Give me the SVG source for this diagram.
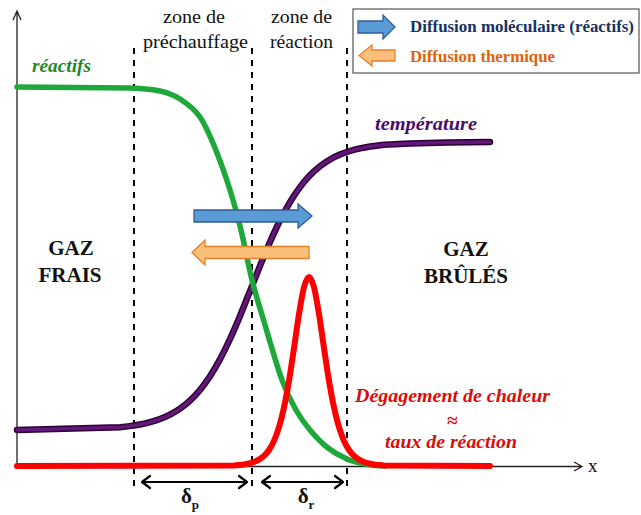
<svg xmlns="http://www.w3.org/2000/svg" width="641" height="515" viewBox="0 0 641 515">
<style>
.dash{stroke:#000;stroke-width:2;stroke-dasharray:6 6;fill:none}
.ax{stroke:#222;stroke-width:1.3;fill:none}
.dim{stroke:#000;stroke-width:2.2;fill:none;stroke-linecap:round;stroke-linejoin:round}
.lbl{font-size:19px;fill:#111}
.gaz{font-size:21px;font-weight:bold;fill:#111;text-anchor:middle}
.it{font-style:italic;font-weight:bold}
.leg{font-weight:bold;font-size:17px}
.curve{fill:none;stroke-linecap:round;stroke-linejoin:round}
.blue{fill:#5b9bd5;stroke:#2f5d95;stroke-width:1.3}
.orange{fill:#fbbf7c;stroke:#e0812a;stroke-width:1.3}
</style>
<rect width="641" height="515" fill="#fff"/>
<g font-family="Liberation Serif, Times New Roman, serif">
<g id="axes">
<path class="ax" d="M17,467 V11 M13,20 L17,11 L21,20"/>
<path class="ax" d="M17,466.5 H582 M574,462 L582,466.5 L574,471" stroke="#444"/>
<text x="588" y="472" class="lbl" font-size="18">x</text>
</g>

<g id="zone-boundaries">
<line class="dash" x1="134" y1="48" x2="134" y2="490"/>
<line class="dash" x1="252" y1="48" x2="252" y2="490"/>
<line class="dash" x1="347" y1="48" x2="347" y2="490"/>
</g>

<g id="zone-labels">
<text class="lbl" x="163" y="23" textLength="62" lengthAdjust="spacingAndGlyphs">zone de</text>
<text class="lbl" x="143" y="48" textLength="105" lengthAdjust="spacingAndGlyphs">préchauffage</text>
<text class="lbl" x="271" y="23" textLength="61" lengthAdjust="spacingAndGlyphs">zone de</text>
<text class="lbl" x="270" y="48" textLength="63" lengthAdjust="spacingAndGlyphs">réaction</text>
</g>

<g id="curves">
<path id="temperature-curve" class="curve" stroke="#2d0035" stroke-width="6.5" d="M17,430 L120,427.2 C123.33,426.9 126.67,426.55 130,426.1 S136.67,425.15 140,424.5 S146.67,423.12 150,422.2 S156.67,420.25 160,419 S166.67,416.42 170,414.7 S176.67,411.05 180,408.7 S186.67,403.72 190,400.6 S196.67,394.05 200,390 S206.67,381.42 210,376.3 S216.67,365.52 220,359.3 S226.67,346.23 230,339 S236.67,323.88 240,315.9 S246.67,299.43 250,291.1 S256.67,274.08 260,265.9 S266.67,249.57 270,242 S276.67,227.15 280,220.5 S286.67,207.67 290,202.1 S296.67,191.57 300,187.1 S306.67,178.77 310,175.3 S316.67,168.93 320,166.3 S326.67,161.45 330,159.5 S336.67,156.02 340,154.6 S346.67,152.03 350,151 S356.67,149.15 360,148.4 S366.67,147.03 370,146.5 S376.67,145.57 380,145.2 C383.33,144.83 420,142.3 490,142"/>
<path class="curve" stroke="#63177a" stroke-width="3.5" d="M17,430 L120,427.2 C123.33,426.9 126.67,426.55 130,426.1 S136.67,425.15 140,424.5 S146.67,423.12 150,422.2 S156.67,420.25 160,419 S166.67,416.42 170,414.7 S176.67,411.05 180,408.7 S186.67,403.72 190,400.6 S196.67,394.05 200,390 S206.67,381.42 210,376.3 S216.67,365.52 220,359.3 S226.67,346.23 230,339 S236.67,323.88 240,315.9 S246.67,299.43 250,291.1 S256.67,274.08 260,265.9 S266.67,249.57 270,242 S276.67,227.15 280,220.5 S286.67,207.67 290,202.1 S296.67,191.57 300,187.1 S306.67,178.77 310,175.3 S316.67,168.93 320,166.3 S326.67,161.45 330,159.5 S336.67,156.02 340,154.6 S346.67,152.03 350,151 S356.67,149.15 360,148.4 S366.67,147.03 370,146.5 S376.67,145.57 380,145.2 C383.33,144.83 420,142.3 490,142"/>
<path id="reactants-curve" class="curve" stroke="#1fa83a" stroke-width="5.5" d="M17,87 L130,88 C140,88.5 151.7,89.2 160,91 C168.3,92.8 173.3,94.7 180,99 C186.7,103.3 194.2,108.8 200,117 C205.8,125.2 210,135.8 215,148 C220,160.2 225.7,176.3 230,190 C234.3,203.7 237.3,215 241,230 C244.7,245 248,264.2 252,280 C256,295.8 260,308.3 265,325 C270,341.7 276.8,365.8 282,380 C287.2,394.2 291.3,401.7 296,410 C300.7,418.3 304.7,423.7 310,430 C315.3,436.3 321.8,443.2 328,448 C334.2,452.8 340.8,456.3 347,459 C353.2,461.7 358.7,462.8 365,464 C371.3,465.2 378,466 385,466"/>
<path id="heat-release-curve" class="curve" stroke="#ff0000" stroke-width="6" d="M17,466 L234,465.4 C235.67,465.28 237.33,465.15 239,465 S242.33,464.75 244,464.5 S247.33,463.92 249,463.5 S252.33,462.65 254,462 S257.33,460.62 259,459.6 S262.33,457.5 264,455.9 S267.33,452.5 269,450 S272.33,444.7 274,440.9 S277.33,432.78 279,427.2 S282.33,415.15 284,407.4 S287.33,390.58 289,380.7 S292.33,359.2 294,348.1 S297.33,324.23 299,314.1 S302.33,293.48 304,287.3 S307.33,277 309,277 S312.33,281.12 314,287.3 S317.33,303.97 319,314.1 S322.33,337 324,348.1 S327.33,370.82 329,380.7 S332.33,399.65 334,407.4 S337.33,421.62 339,427.2 S342.33,437.1 344,440.9 S347.33,447.5 349,450 S352.33,454.3 354,455.9 S357.33,458.58 359,459.6 S362.33,461.35 364,462 S367.33,463.08 369,463.5 S372.33,464.25 374,464.5 S377.33,464.85 379,465 S382.33,465.3 384,465.4 L490,466"/>
</g>

<g id="curve-labels">
<text class="it" x="32" y="72" font-size="19" fill="#1e8a2a" textLength="59" lengthAdjust="spacingAndGlyphs">réactifs</text>
<text class="it" x="375" y="130" font-size="19" fill="#4a0d66" font-weight="normal" textLength="102" lengthAdjust="spacingAndGlyphs">température</text>
</g>

<g id="gaz-frais">
<text class="gaz" x="71" y="255">GAZ</text>
<text class="gaz" x="70" y="282">FRAIS</text>
</g>

<g id="gaz-brules">
<text class="gaz" x="466" y="256">GAZ</text>
<text class="gaz" x="466" y="283">BRÛLÉS</text>
</g>

<g id="heat-release-label" fill="#dd0a0a">
<text class="it" x="355" y="402" font-size="19.5" textLength="195" lengthAdjust="spacingAndGlyphs">Dégagement de chaleur</text>
<text class="it" x="452" y="427" font-size="19.5" text-anchor="middle">≈</text>
<text class="it" x="385" y="448" font-size="19.5" textLength="132" lengthAdjust="spacingAndGlyphs">taux de réaction</text>
</g>

<g id="molecular-diffusion-arrow">
<polygon class="blue" points="194,210 298,210 298,204 312,216 298,228 298,222 194,222"/>
</g>
<g id="thermal-diffusion-arrow">
<polygon class="orange" points="309,246.5 205,246.5 205,240 192,252.5 205,265 205,258.5 309,258.5"/>
</g>

<g id="dimensions">
<path class="dim" d="M142,482 H247 M150,476 L142,482 L150,488 M239,476 L247,482 L239,488"/>
<path class="dim" d="M262,482 H343 M270,476 L262,482 L270,488 M335,476 L343,482 L335,488"/>
<text class="gaz" x="190" y="503" text-anchor="middle" font-size="20">δ<tspan font-size="13" dy="6">p</tspan></text>
<text class="gaz" x="306" y="503" text-anchor="middle" font-size="20">δ<tspan font-size="13" dy="6">r</tspan></text>
</g>

<g id="legend">
<rect x="353" y="9" width="286" height="64" fill="#fff" stroke="#333" stroke-width="1"/>
<polygon class="blue" points="358,21 383,21 383,15 395,27 383,39 383,33 358,33"/>
<text class="leg" x="410" y="32" fill="#17325e" textLength="224" lengthAdjust="spacingAndGlyphs">Diffusion moléculaire (réactifs)</text>
<polygon class="orange" points="395,50 372,50 372,45 359,55.5 372,66 372,61 395,61"/>
<text class="leg" x="410" y="62" fill="#e0620a" textLength="145" lengthAdjust="spacingAndGlyphs">Diffusion thermique</text>
</g>
</g>
</svg>
